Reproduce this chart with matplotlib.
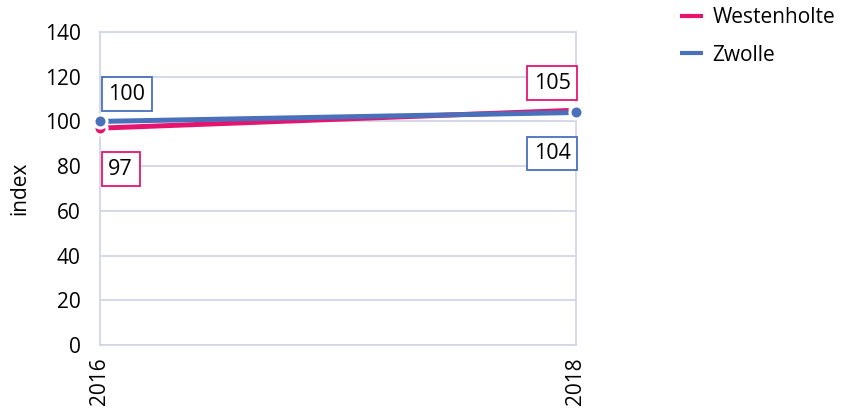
import matplotlib
matplotlib.use("Agg")
import matplotlib.pyplot as plt

plt.rcParams['font.family'] = ['Open Sans', 'DejaVu Sans']

years = ["2016", "2018"]
westenholte = [97, 105]
zwolle = [100, 104]
series_names = ["Westenholte", "Zwolle"]
colors = ["#e5156f", "#4a6fbb"]
y_ticks = [0, 20, 40, 60, 80, 100, 120, 140]

fig = plt.figure(figsize=(8.42, 4.16), dpi=100)
ax = fig.add_axes([100/842, 1-345/416, (576-100)/842, (345-32)/416])

x = list(range(len(years)))
grid_c = "#d3d6e8"
for t in y_ticks:
    ax.axhline(t, color=grid_c, lw=1.3, zorder=0)

l1, = ax.plot(x, westenholte, color=colors[0], lw=3.6, marker='o', ms=9.4,
              mec='white', mew=2.2, solid_capstyle='butt', zorder=3, clip_on=False)
l2, = ax.plot(x, zwolle, color=colors[1], lw=3.6, marker='o', ms=9.4,
              mec='white', mew=2.2, solid_capstyle='butt', zorder=4, clip_on=False)

ax.set_xlim(0, 1)
ax.set_ylim(0, 140)
ax.set_yticks(y_ticks)
ax.set_xticks(x)
ax.set_xticklabels(years, rotation=90, fontsize=15)
ax.tick_params(axis='y', labelsize=15, length=0, pad=14)
ax.tick_params(axis='x', length=0, pad=9)
for s in ['top', 'right', 'bottom', 'left']:
    ax.spines[s].set_color(grid_c)
    ax.spines[s].set_linewidth(1.3)
ax.set_ylabel("index", fontsize=15, labelpad=10)

def box(xv, yv, txt, col, dx, dy, ha, va):
    ax.annotate(txt, (xv, yv), xytext=(dx, dy), textcoords='offset points',
                ha=ha, va=va, fontsize=15.5, zorder=6, annotation_clip=False,
                bbox=dict(boxstyle='square,pad=0.3', fc='white', ec=col, lw=1.3))

box(0, zwolle[0], str(zwolle[0]), colors[1], 6, 12, 'left', 'bottom')
box(0, westenholte[0], str(westenholte[0]), colors[0], 6, -22, 'left', 'top')
box(1, westenholte[1], str(westenholte[1]), colors[0], -4, 12, 'right', 'bottom')
box(1, zwolle[1], str(zwolle[1]), colors[1], -4, -22, 'right', 'top')

leg = fig.legend([l1, l2], series_names, loc='upper left',
                 bbox_to_anchor=(680/842, 1-7/416), frameon=False, fontsize=15,
                 borderaxespad=0, borderpad=0,
                 handlelength=1.1, handletextpad=0.45, labelspacing=0.8)
for h in leg.legend_handles:
    h.set_marker('')
    h.set_linewidth(3)

fig.savefig("out.png", dpi=100)
